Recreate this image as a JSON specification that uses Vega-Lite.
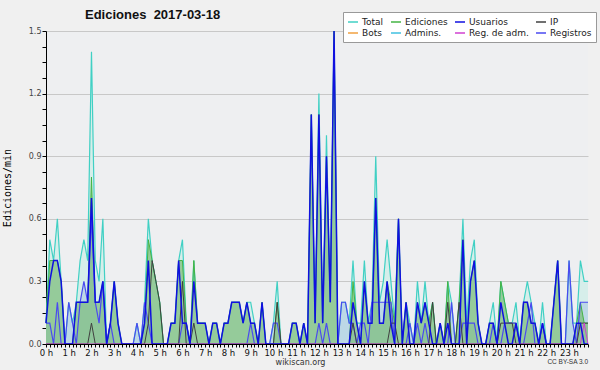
{
"$schema": "https://vega.github.io/schema/vega-lite/v6.json",
"width": 542, "height": 313,
"autosize": {"type": "none"},
"padding": {"left": 46, "top": 31, "right": 12, "bottom": 26},
"background": "#f0f0f0",
"config": {"view": {"fill": "#eeeff1", "stroke": null}},
"title": {"text": "Ediciones\u00a0 2017-03-18", "anchor": "start", "frame": "group", "dx": 39, "dy": 19, "font": "Liberation Sans", "fontSize": 13, "fontWeight": "bold", "color": "#111111", "offset": 9},
"data": {"values": [
{"m":0,"T":0.1,"E":0.1,"U":0.1,"I":0,"R":0.1,"M":0},
{"m":10,"T":0.5,"E":0.4,"U":0.3,"I":0,"R":0.1,"M":0},
{"m":20,"T":0.4,"E":0.4,"U":0.4,"I":0,"R":0,"M":0},
{"m":30,"T":0.6,"E":0.4,"U":0.4,"I":0,"R":0.2,"M":0},
{"m":40,"T":0.3,"E":0.3,"U":0.3,"I":0,"R":0,"M":0},
{"m":50,"T":0,"E":0,"U":0,"I":0,"R":0,"M":0},
{"m":60,"T":0.2,"E":0,"U":0,"I":0,"R":0.2,"M":0},
{"m":70,"T":0.1,"E":0,"U":0,"I":0,"R":0.1,"M":0},
{"m":80,"T":0.2,"E":0.2,"U":0.2,"I":0,"R":0,"M":0},
{"m":90,"T":0.4,"E":0.2,"U":0.2,"I":0,"R":0.2,"M":0},
{"m":100,"T":0.5,"E":0.2,"U":0.2,"I":0,"R":0.3,"M":0},
{"m":110,"T":0.4,"E":0.2,"U":0.2,"I":0,"R":0.2,"M":0},
{"m":120,"T":1.4,"E":0.8,"U":0.7,"I":0.1,"R":0.6,"M":0},
{"m":130,"T":0.4,"E":0.2,"U":0.2,"I":0,"R":0.2,"M":0},
{"m":140,"T":0.3,"E":0.2,"U":0.2,"I":0,"R":0.1,"M":0},
{"m":150,"T":0.6,"E":0.3,"U":0.3,"I":0,"R":0.3,"M":0},
{"m":160,"T":0,"E":0,"U":0,"I":0,"R":0,"M":0},
{"m":170,"T":0.1,"E":0.1,"U":0.1,"I":0,"R":0.1,"M":0},
{"m":180,"T":0.3,"E":0.3,"U":0.3,"I":0,"R":0,"M":0},
{"m":190,"T":0.1,"E":0.1,"U":0.1,"I":0,"R":0,"M":0},
{"m":200,"T":0,"E":0,"U":0,"I":0,"R":0,"M":0},
{"m":210,"T":0,"E":0,"U":0,"I":0,"R":0,"M":0},
{"m":220,"T":0,"E":0,"U":0,"I":0,"R":0,"M":0},
{"m":230,"T":0,"E":0,"U":0,"I":0,"R":0,"M":0},
{"m":240,"T":0.1,"E":0,"U":0,"I":0,"R":0.1,"M":0},
{"m":250,"T":0,"E":0,"U":0,"I":0,"R":0,"M":0},
{"m":260,"T":0.2,"E":0.1,"U":0.1,"I":0,"R":0.2,"M":0},
{"m":270,"T":0.6,"E":0.5,"U":0.4,"I":0.1,"R":0.1,"M":0},
{"m":280,"T":0.4,"E":0.4,"U":0,"I":0.4,"R":0,"M":0},
{"m":290,"T":0.3,"E":0.3,"U":0,"I":0.3,"R":0,"M":0},
{"m":300,"T":0.2,"E":0.2,"U":0,"I":0.2,"R":0,"M":0},
{"m":310,"T":0,"E":0,"U":0,"I":0,"R":0,"M":0},
{"m":320,"T":0,"E":0,"U":0,"I":0,"R":0,"M":0},
{"m":330,"T":0.1,"E":0.1,"U":0.1,"I":0,"R":0,"M":0},
{"m":340,"T":0.1,"E":0.1,"U":0.1,"I":0,"R":0,"M":0},
{"m":350,"T":0.4,"E":0.4,"U":0.4,"I":0,"R":0,"M":0},
{"m":360,"T":0.5,"E":0.4,"U":0.1,"I":0.3,"R":0.1,"M":0},
{"m":370,"T":0.1,"E":0.1,"U":0.1,"I":0,"R":0.1,"M":0},
{"m":380,"T":0,"E":0,"U":0,"I":0,"R":0,"M":0},
{"m":390,"T":0.4,"E":0.4,"U":0.3,"I":0.1,"R":0,"M":0},
{"m":400,"T":0.1,"E":0.1,"U":0.1,"I":0,"R":0,"M":0},
{"m":410,"T":0.1,"E":0.1,"U":0.1,"I":0,"R":0,"M":0},
{"m":420,"T":0.1,"E":0.1,"U":0.1,"I":0,"R":0,"M":0},
{"m":430,"T":0,"E":0,"U":0,"I":0,"R":0,"M":0},
{"m":440,"T":0.1,"E":0.1,"U":0.1,"I":0,"R":0,"M":0},
{"m":450,"T":0.1,"E":0.1,"U":0.1,"I":0,"R":0,"M":0},
{"m":460,"T":0,"E":0,"U":0,"I":0,"R":0,"M":0},
{"m":470,"T":0.1,"E":0.1,"U":0.1,"I":0,"R":0,"M":0},
{"m":480,"T":0.1,"E":0.1,"U":0.1,"I":0,"R":0,"M":0},
{"m":490,"T":0.2,"E":0.2,"U":0.2,"I":0,"R":0,"M":0},
{"m":500,"T":0.2,"E":0.2,"U":0.2,"I":0,"R":0,"M":0},
{"m":510,"T":0.2,"E":0.2,"U":0.2,"I":0,"R":0,"M":0},
{"m":520,"T":0.1,"E":0.1,"U":0.1,"I":0,"R":0,"M":0},
{"m":530,"T":0.2,"E":0.2,"U":0.2,"I":0,"R":0,"M":0},
{"m":540,"T":0.2,"E":0.1,"U":0.1,"I":0,"R":0.1,"M":0},
{"m":550,"T":0.1,"E":0.1,"U":0.1,"I":0,"R":0,"M":0},
{"m":560,"T":0,"E":0,"U":0,"I":0,"R":0,"M":0},
{"m":570,"T":0.2,"E":0.2,"U":0.2,"I":0,"R":0,"M":0},
{"m":580,"T":0,"E":0,"U":0,"I":0,"R":0,"M":0},
{"m":590,"T":0,"E":0,"U":0,"I":0,"R":0,"M":0},
{"m":600,"T":0.1,"E":0,"U":0,"I":0,"R":0.1,"M":0},
{"m":610,"T":0.3,"E":0.2,"U":0,"I":0.2,"R":0.1,"M":0},
{"m":620,"T":0,"E":0,"U":0,"I":0,"R":0,"M":0},
{"m":630,"T":0,"E":0,"U":0,"I":0,"R":0,"M":0},
{"m":640,"T":0,"E":0,"U":0,"I":0,"R":0,"M":0},
{"m":650,"T":0.1,"E":0.1,"U":0.1,"I":0,"R":0,"M":0},
{"m":660,"T":0.1,"E":0.1,"U":0.1,"I":0,"R":0,"M":0},
{"m":670,"T":0,"E":0,"U":0,"I":0,"R":0,"M":0},
{"m":680,"T":0.1,"E":0.1,"U":0.1,"I":0,"R":0,"M":0},
{"m":690,"T":0,"E":0,"U":0,"I":0,"R":0,"M":0},
{"m":700,"T":1.1,"E":1.1,"U":1.1,"I":0,"R":0,"M":0},
{"m":710,"T":0.1,"E":0.1,"U":0.1,"I":0,"R":0,"M":0},
{"m":720,"T":1.2,"E":1.1,"U":1.1,"I":0,"R":0.1,"M":0},
{"m":730,"T":0.1,"E":0.1,"U":0.1,"I":0,"R":0,"M":0},
{"m":740,"T":1.0,"E":0.9,"U":0.9,"I":0,"R":0.1,"M":0},
{"m":750,"T":0.2,"E":0.2,"U":0.2,"I":0,"R":0,"M":0},
{"m":760,"T":1.5,"E":1.5,"U":1.5,"I":0,"R":0,"M":0},
{"m":770,"T":0,"E":0,"U":0,"I":0,"R":0,"M":0},
{"m":780,"T":0.2,"E":0,"U":0,"I":0,"R":0.2,"M":0},
{"m":790,"T":0.2,"E":0,"U":0,"I":0,"R":0.2,"M":0},
{"m":800,"T":0.1,"E":0,"U":0,"I":0,"R":0.1,"M":0},
{"m":810,"T":0.4,"E":0.3,"U":0.2,"I":0.1,"R":0.1,"M":0},
{"m":820,"T":0.1,"E":0.1,"U":0.1,"I":0,"R":0,"M":0},
{"m":830,"T":0.1,"E":0,"U":0,"I":0,"R":0.1,"M":0},
{"m":840,"T":0.4,"E":0.3,"U":0.3,"I":0,"R":0.1,"M":0},
{"m":850,"T":0.1,"E":0.1,"U":0.1,"I":0,"R":0,"M":0},
{"m":860,"T":0.2,"E":0.1,"U":0.1,"I":0,"R":0.2,"M":0},
{"m":870,"T":0.9,"E":0.7,"U":0.7,"I":0,"R":0.2,"M":0},
{"m":880,"T":0.2,"E":0.1,"U":0.1,"I":0,"R":0.2,"M":0},
{"m":890,"T":0.3,"E":0.1,"U":0.1,"I":0,"R":0.2,"M":0},
{"m":900,"T":0.5,"E":0.3,"U":0.3,"I":0,"R":0.2,"M":0},
{"m":910,"T":0.3,"E":0.2,"U":0.1,"I":0.1,"R":0.2,"M":0},
{"m":920,"T":0.1,"E":0.1,"U":0,"I":0.1,"R":0,"M":0},
{"m":930,"T":0.6,"E":0.6,"U":0.6,"I":0,"R":0,"M":0},
{"m":940,"T":0,"E":0,"U":0,"I":0,"R":0,"M":0},
{"m":950,"T":0.2,"E":0.2,"U":0.2,"I":0,"R":0,"M":0},
{"m":960,"T":0.1,"E":0,"U":0,"I":0,"R":0.1,"M":0},
{"m":970,"T":0,"E":0,"U":0,"I":0,"R":0,"M":0},
{"m":980,"T":0.3,"E":0.2,"U":0.2,"I":0,"R":0.1,"M":0},
{"m":990,"T":0.1,"E":0.1,"U":0.1,"I":0,"R":0,"M":0},
{"m":1000,"T":0.3,"E":0.2,"U":0.2,"I":0,"R":0.1,"M":0},
{"m":1010,"T":0.1,"E":0.1,"U":0.1,"I":0,"R":0,"M":0},
{"m":1020,"T":0.2,"E":0.2,"U":0,"I":0.2,"R":0,"M":0},
{"m":1030,"T":0,"E":0,"U":0,"I":0,"R":0,"M":0},
{"m":1040,"T":0.1,"E":0.1,"U":0.1,"I":0,"R":0,"M":0},
{"m":1050,"T":0,"E":0,"U":0,"I":0,"R":0,"M":0},
{"m":1060,"T":0.3,"E":0.3,"U":0.1,"I":0.2,"R":0,"M":0},
{"m":1070,"T":0.2,"E":0,"U":0,"I":0,"R":0.2,"M":0},
{"m":1080,"T":0,"E":0,"U":0,"I":0,"R":0,"M":0},
{"m":1090,"T":0.2,"E":0.2,"U":0,"I":0.2,"R":0,"M":0},
{"m":1100,"T":0.6,"E":0.5,"U":0.5,"I":0,"R":0.1,"M":0},
{"m":1110,"T":0.1,"E":0,"U":0,"I":0,"R":0.1,"M":0},
{"m":1120,"T":0.4,"E":0.3,"U":0.3,"I":0,"R":0.1,"M":0},
{"m":1130,"T":0.5,"E":0.4,"U":0.4,"I":0,"R":0.1,"M":0},
{"m":1140,"T":0.1,"E":0.1,"U":0.1,"I":0,"R":0,"M":0},
{"m":1150,"T":0,"E":0,"U":0,"I":0,"R":0,"M":0},
{"m":1160,"T":0,"E":0,"U":0,"I":0,"R":0,"M":0},
{"m":1170,"T":0.1,"E":0.1,"U":0.1,"I":0,"R":0,"M":0},
{"m":1180,"T":0.2,"E":0.1,"U":0.1,"I":0,"R":0.1,"M":0},
{"m":1190,"T":0,"E":0,"U":0,"I":0,"R":0,"M":0},
{"m":1200,"T":0.3,"E":0.3,"U":0.2,"I":0.1,"R":0,"M":0},
{"m":1210,"T":0.2,"E":0.2,"U":0.1,"I":0.1,"R":0.1,"M":0},
{"m":1220,"T":0.1,"E":0.1,"U":0,"I":0.1,"R":0.1,"M":0},
{"m":1230,"T":0.1,"E":0.1,"U":0,"I":0.1,"R":0.1,"M":0},
{"m":1240,"T":0.2,"E":0.1,"U":0.1,"I":0,"R":0.1,"M":0},
{"m":1250,"T":0,"E":0,"U":0,"I":0,"R":0,"M":0},
{"m":1260,"T":0.2,"E":0.2,"U":0.2,"I":0,"R":0,"M":0},
{"m":1270,"T":0.3,"E":0.2,"U":0.2,"I":0,"R":0.1,"M":0},
{"m":1280,"T":0.2,"E":0.1,"U":0.1,"I":0,"R":0.2,"M":0},
{"m":1290,"T":0.1,"E":0.1,"U":0.1,"I":0,"R":0,"M":0},
{"m":1300,"T":0,"E":0,"U":0,"I":0,"R":0,"M":0},
{"m":1310,"T":0.2,"E":0.1,"U":0.1,"I":0,"R":0.1,"M":0},
{"m":1320,"T":0,"E":0,"U":0,"I":0,"R":0,"M":0},
{"m":1330,"T":0,"E":0,"U":0,"I":0,"R":0,"M":0},
{"m":1340,"T":0.2,"E":0.2,"U":0.2,"I":0,"R":0,"M":0},
{"m":1350,"T":0.4,"E":0.4,"U":0.4,"I":0,"R":0,"M":0},
{"m":1360,"T":0,"E":0,"U":0,"I":0,"R":0,"M":0},
{"m":1370,"T":0,"E":0,"U":0,"I":0,"R":0,"M":0},
{"m":1380,"T":0.4,"E":0,"U":0,"I":0,"R":0.4,"M":0},
{"m":1390,"T":0.1,"E":0,"U":0,"I":0,"R":0.1,"M":0},
{"m":1400,"T":0.1,"E":0.1,"U":0.1,"I":0,"R":0,"M":0},
{"m":1410,"T":0.4,"E":0.2,"U":0.1,"I":0.1,"R":0.2,"M":0},
{"m":1420,"T":0.3,"E":0.1,"U":0,"I":0.1,"R":0.2,"M":0.1},
{"m":1430,"T":0.3,"E":0.1,"U":0,"I":0.1,"R":0.2,"M":0}
]},
"transform": [{"fold": ["T", "E", "U", "I", "R", "M"], "as": ["k", "v"]}],
"encoding": {
  "x": {"field": "m", "type": "quantitative", "scale": {"domain": [0, 1430], "nice": false, "zero": false},
    "axis": {"values": [0,10,20,30,40,50,60,70,80,90,100,110,120,130,140,150,160,170,180,190,200,210,220,230,240,250,260,270,280,290,300,310,320,330,340,350,360,370,380,390,400,410,420,430,440,450,460,470,480,490,500,510,520,530,540,550,560,570,580,590,600,610,620,630,640,650,660,670,680,690,700,710,720,730,740,750,760,770,780,790,800,810,820,830,840,850,860,870,880,890,900,910,920,930,940,950,960,970,980,990,1000,1010,1020,1030,1040,1050,1060,1070,1080,1090,1100,1110,1120,1130,1140,1150,1160,1170,1180,1190,1200,1210,1220,1230,1240,1250,1260,1270,1280,1290,1300,1310,1320,1330,1340,1350,1360,1370,1380,1390,1400,1410,1420,1430],
      "labelExpr": "datum.value % 60 == 0 ? (datum.value / 60) + ' h' : ''",
      "labelFont": "DejaVu Sans", "labelFontSize": 8.5, "labelColor": "#111111", "labelPadding": 1, "labelOverlap": false, "labelFlush": false,
      "tickSize": 3, "tickColor": "#000000", "domainColor": "#000000", "grid": false, "zindex": 1,
      "title": "wikiscan.org", "titleFont": "DejaVu Sans", "titleFontSize": 8, "titleFontWeight": "normal", "titleColor": "#333333", "titleX": 254, "titlePadding": 2}},
  "y": {"field": "v", "type": "quantitative", "scale": {"domain": [0, 1.5], "nice": false},
    "axis": {"values": [0,0.075,0.15,0.225,0.3,0.375,0.45,0.525,0.6,0.675,0.75,0.825,0.9,0.975,1.05,1.125,1.2,1.275,1.35,1.425,1.5],
      "labelExpr": "abs(datum.value/0.3 - round(datum.value/0.3)) < 0.001 ? format(datum.value, '.1f') : ''",
      "gridOpacity": {"condition": {"test": "abs(datum.value/0.3 - round(datum.value/0.3)) < 0.001 && datum.value > 0", "value": 1}, "value": 0},
      "gridColor": "#c8c8c8", "tickSize": 4, "tickColor": "#000000", "domainColor": "#000000",
      "labelFont": "DejaVu Sans", "labelFontSize": 8, "labelColor": "#444444", "labelPadding": 1,
      "title": "Ediciones/min", "titleFont": "DejaVu Sans Mono", "titleFontSize": 10, "titleFontWeight": "normal", "titleColor": "#000000", "titlePadding": 16}},
  "color": {"field": "k", "type": "nominal",
    "scale": {"domain": ["T", "E", "U", "I", "B", "A", "M", "R"], "range": ["#40d0c4", "#44b444", "#1010e0", "#404040", "#f0a040", "#40c0e0", "#d040d0", "#4a4af0"]},
    "legend": {"orient": "none", "legendX": 297, "legendY": -19, "direction": "horizontal", "columns": 4, "title": null,
      "fillColor": "#ffffff", "strokeColor": "#999999", "padding": 4, "symbolType": "stroke", "symbolSize": 100, "symbolStrokeWidth": 1.5,
      "labelFont": "DejaVu Sans", "labelFontSize": 9, "labelColor": "#222222", "labelOffset": 3, "columnPadding": 4, "rowPadding": 0,
      "labelExpr": "datum.label == 'T' ? 'Total' : datum.label == 'E' ? 'Ediciones' : datum.label == 'U' ? 'Usuarios' : datum.label == 'I' ? 'IP' : datum.label == 'B' ? 'Bots' : datum.label == 'A' ? 'Admins.' : datum.label == 'M' ? 'Reg. de adm.' : 'Registros'"}}
},
"layer": [
  {"transform": [{"filter": "datum.k == 'T'"}], "mark": {"type": "area"}, "encoding": {"color": {"value": "#d6eeea"}}},
  {"transform": [{"filter": "datum.k == 'R'"}], "mark": {"type": "area"}, "encoding": {"color": {"value": "#bcd8e6"}}},
  {"transform": [{"filter": "datum.k == 'E'"}], "mark": {"type": "area", "opacity": 0.75}, "encoding": {"color": {"value": "#7fbf7f"}}},
  {"transform": [{"filter": "datum.k == 'T'"}], "mark": {"type": "line", "strokeWidth": 1.2}},
  {"transform": [{"filter": "datum.k == 'E'"}], "mark": {"type": "line", "strokeWidth": 1}},
  {"transform": [{"filter": "datum.k == 'R'"}], "mark": {"type": "line", "strokeWidth": 1.2}},
  {"transform": [{"filter": "datum.k == 'I'"}], "mark": {"type": "line", "strokeWidth": 1}},
  {"transform": [{"filter": "datum.k == 'M'"}], "mark": {"type": "line", "strokeWidth": 1}},
  {"transform": [{"filter": "datum.k == 'U'"}], "mark": {"type": "line", "strokeWidth": 1.5}},
  {"transform": [{"filter": "datum.k == 'T' && datum.m == 1430"}],
   "mark": {"type": "text", "text": "CC BY-SA 3.0", "align": "right", "baseline": "middle", "font": "Liberation Sans", "fontSize": 6.5},
   "encoding": {"x": {"datum": 1430}, "y": {"datum": -0.086}, "color": {"value": "#333333"}}}
]
}
